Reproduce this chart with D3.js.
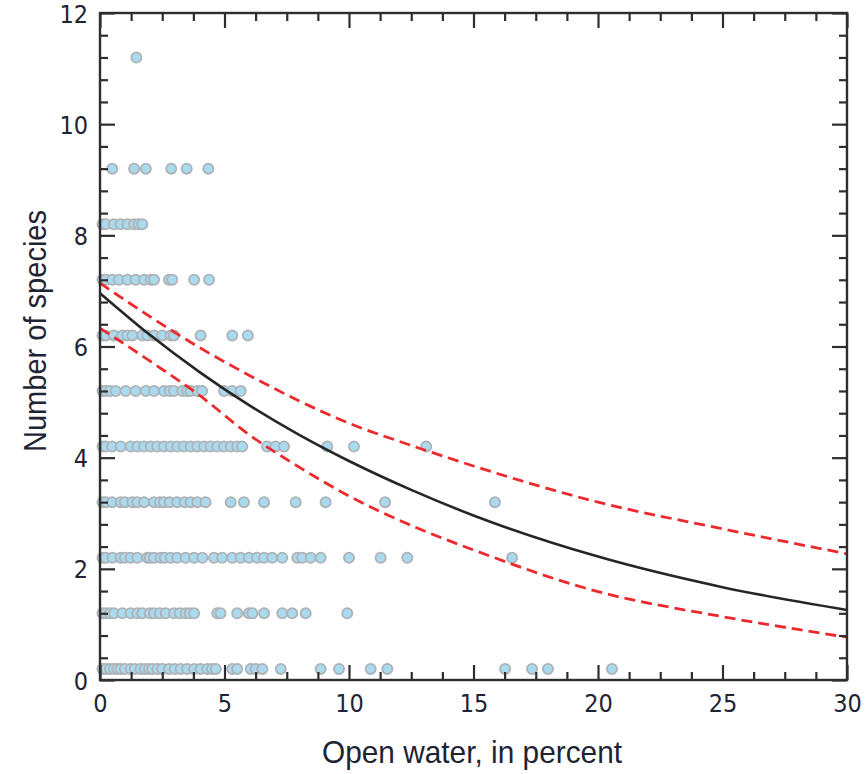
<!DOCTYPE html>
<html>
<head>
<meta charset="utf-8">
<script src="https://cdn.jsdelivr.net/npm/d3@7"></script>
<style>
  html, body { margin: 0; padding: 0; background: #fff; }
  svg { display: block; }
  .tick-label { font-family: "Liberation Sans Narrow", "DejaVu Sans Condensed", "Liberation Sans", sans-serif; fill: #1f2433; }
  .axis-title { font-family: "Liberation Sans", "Arial", sans-serif; fill: #1f2433; }
</style>
</head>
<body>
<svg id="chart" width="868" height="774"></svg>
<script>
// Species counts observed against percent open water (rows of points)
const rowLevels = [0.2, 1.2, 2.2, 3.2, 4.2, 5.2, 6.2, 7.2, 8.2, 9.2, 11.2];
const rowOpenWater = [
  [0.1, 0.23, 0.4, 0.56, 0.7, 0.83, 1.0, 1.23, 1.4, 1.63, 1.8, 1.97, 2.1, 2.3, 2.5, 2.77, 3.0, 3.24, 3.5, 3.78, 4.04, 4.31, 4.5, 4.65, 5.31, 5.51, 6.05, 6.25, 6.52, 7.26, 8.86, 9.6, 10.87, 11.54, 16.27, 17.35, 17.99, 20.56],
  [0.1, 0.23, 0.4, 0.56, 0.9, 1.23, 1.5, 1.7, 2.0, 2.17, 2.4, 2.64, 2.97, 3.2, 3.44, 3.6, 3.78, 4.71, 4.84, 5.51, 5.98, 6.12, 6.59, 7.32, 7.72, 8.26, 9.93],
  [0.1, 0.23, 0.5, 0.83, 1.0, 1.23, 1.5, 1.9, 2.0, 2.17, 2.44, 2.6, 2.84, 3.1, 3.44, 3.78, 4.11, 4.58, 4.91, 5.31, 5.65, 5.98, 6.31, 6.59, 6.92, 7.32, 7.92, 8.12, 8.46, 8.86, 10.0, 11.27, 12.34, 16.55],
  [0.1, 0.23, 0.49, 0.83, 1.0, 1.3, 1.5, 1.77, 2.17, 2.4, 2.57, 2.8, 3.1, 3.4, 3.64, 3.91, 4.24, 5.25, 5.78, 6.59, 7.86, 9.06, 11.45, 15.86],
  [0.1, 0.23, 0.49, 0.83, 1.23, 1.5, 1.77, 2.04, 2.3, 2.57, 2.84, 3.1, 3.37, 3.64, 3.91, 4.18, 4.44, 4.71, 4.98, 5.25, 5.51, 5.71, 6.71, 7.05, 7.39, 9.13, 10.2, 13.1],
  [0.1, 0.23, 0.4, 0.63, 1.03, 1.43, 1.84, 2.17, 2.57, 2.8, 2.97, 3.31, 3.5, 3.64, 3.91, 4.1, 4.98, 5.31, 5.65],
  [0.1, 0.23, 0.56, 0.9, 1.1, 1.3, 1.7, 1.9, 2.17, 2.5, 2.84, 2.97, 4.04, 5.31, 5.94],
  [0.1, 0.23, 0.49, 0.76, 1.1, 1.43, 1.77, 2.04, 2.17, 2.77, 2.9, 3.78, 4.38],
  [0.1, 0.23, 0.56, 0.83, 1.1, 1.37, 1.55, 1.7],
  [0.49, 1.37, 1.84, 2.86, 3.48, 4.35],
  [1.46]
];

// Fitted curve and its confidence band, sampled along open water
const curveX     = [0, 2, 4, 6, 8, 10, 12.5, 15, 20, 25, 30];
const fitY       = [6.96, 6.21, 5.54, 4.94, 4.41, 3.94, 3.42, 2.96, 2.22, 1.67, 1.26];
const upperY     = [7.14, 6.54, 5.98, 5.48, 5.02, 4.62, 4.22, 3.85, 3.20, 2.72, 2.27];
const lowerY     = [6.33, 5.74, 5.12, 4.41, 3.83, 3.31, 2.78, 2.34, 1.59, 1.14, 0.77];

const xTickValues = [0, 5, 10, 15, 20, 25, 30];
const yTickValues = [0, 2, 4, 6, 8, 10, 12];
const xMinorStep = 1.25;
const yMinorStep = 0.4;

const svg = d3.select("#chart");
const plotLeft = 100, plotRight = 847, plotTop = 13, plotBottom = 680;

const x = d3.scaleLinear().domain([0, 30]).range([plotLeft, plotRight]);
const y = d3.scaleLinear().domain([0, 12]).range([plotBottom, plotTop]);

const minorX = d3.range(0, 30 + 1e-9, xMinorStep).filter(v => Math.abs(v / 5 - Math.round(v / 5)) > 1e-6);
const minorY = d3.range(0, 12 + 1e-9, yMinorStep).filter(v => Math.abs(v / 2 - Math.round(v / 2)) > 1e-6);

// Points
const points = [];
rowLevels.forEach((lv, i) => rowOpenWater[i].forEach(v => points.push({ x: v, y: lv })));

svg.append("g").selectAll("circle").data(points).join("circle")
  .attr("cx", d => x(d.x))
  .attr("cy", d => y(d.y))
  .attr("r", 5.1)
  .attr("fill", "#a9daee")
  .attr("stroke", "#aeb3b8")
  .attr("stroke-width", 1.8);

// Curves
const band = curveX.map((v, i) => ({ x: v, fit: fitY[i], up: upperY[i], lo: lowerY[i] }));
const lineFor = key => d3.line().x(d => x(d.x)).y(d => y(d[key])).curve(d3.curveMonotoneX);

["up", "lo"].forEach(k => {
  svg.append("path").datum(band)
    .attr("d", lineFor(k))
    .attr("fill", "none")
    .attr("stroke", "#ec2a2e")
    .attr("stroke-width", 2.8)
    .attr("stroke-dasharray", "11,6");
});
svg.append("path").datum(band)
  .attr("d", lineFor("fit"))
  .attr("fill", "none")
  .attr("stroke", "#262626")
  .attr("stroke-width", 2.6);

// Frame axes with inward ticks on all four sides
const axisColor = "#2e2e2e";
const majorLen = 15, minorLen = 8;

const axisB = d3.axisBottom(x).tickValues(xTickValues).tickSize(-majorLen).tickPadding(14).tickFormat(d3.format("d"));
const axisT = d3.axisTop(x).tickValues(xTickValues).tickSize(-majorLen).tickFormat("");
const axisL = d3.axisLeft(y).tickValues(yTickValues).tickSize(-majorLen).tickPadding(12).tickFormat(d3.format("d"));
const axisR = d3.axisRight(y).tickValues(yTickValues).tickSize(-majorLen).tickFormat("");

const minB = d3.axisBottom(x).tickValues(minorX).tickSize(-minorLen).tickFormat("");
const minT = d3.axisTop(x).tickValues(minorX).tickSize(-minorLen).tickFormat("");
const minL = d3.axisLeft(y).tickValues(minorY).tickSize(-minorLen).tickFormat("");
const minR = d3.axisRight(y).tickValues(minorY).tickSize(-minorLen).tickFormat("");

function place(axis, tx, ty) {
  const g = svg.append("g").attr("transform", `translate(${tx},${ty})`).call(axis);
  g.select(".domain").remove();
  g.selectAll(".tick line").attr("stroke", axisColor).attr("stroke-width", 2.2);
  return g;
}
place(minB, 0, plotBottom); place(minT, 0, plotTop); place(minL, plotLeft, 0); place(minR, plotRight, 0);
const gB = place(axisB, 0, plotBottom);
place(axisT, 0, plotTop);
const gL = place(axisL, plotLeft, 0);
place(axisR, plotRight, 0);

gB.selectAll(".tick text").attr("class", "tick-label").attr("font-size", 25).attr("fill", "#1f2433");
gL.selectAll(".tick text").attr("class", "tick-label").attr("font-size", 25).attr("fill", "#1f2433").attr("dy", "0.36em");

svg.append("rect")
  .attr("x", plotLeft).attr("y", plotTop)
  .attr("width", plotRight - plotLeft).attr("height", plotBottom - plotTop)
  .attr("fill", "none").attr("stroke", axisColor).attr("stroke-width", 2.4);

// Axis titles, set in a condensed width
svg.append("text").attr("class", "axis-title")
  .attr("x", 322).attr("y", 763)
  .attr("font-size", 32)
  .attr("textLength", 300).attr("lengthAdjust", "spacingAndGlyphs")
  .text("Open water, in percent");

svg.append("text").attr("class", "axis-title")
  .attr("transform", "translate(46,452) rotate(-90)")
  .attr("font-size", 32)
  .attr("textLength", 242).attr("lengthAdjust", "spacingAndGlyphs")
  .text("Number of species");
</script>
</body>
</html>
